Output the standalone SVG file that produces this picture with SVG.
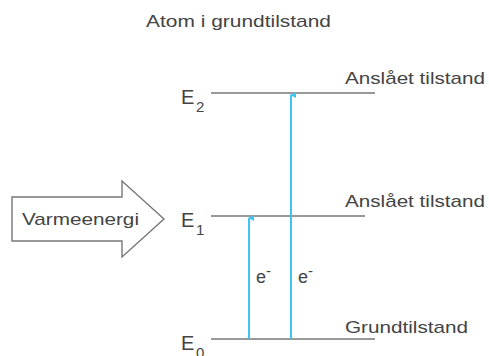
<svg xmlns="http://www.w3.org/2000/svg" width="489" height="356" viewBox="0 0 489 356">
<defs>
<marker id="ah" markerWidth="6" markerHeight="6" refX="3" refY="1" orient="auto-start-reverse" markerUnits="userSpaceOnUse" viewBox="0 0 6 6">
<path d="M0,6 L3,0 L6,6 Z" fill="#3fc3ef"/>
</marker>
</defs>
<style>
text{font-family:"Liberation Sans",Arial,sans-serif;fill:#444;}
.lbl{font-size:17px;}
.el{font-size:18px;}
.e{font-size:20px;}
.sub{font-size:15px;}
.lvl{stroke:#777;stroke-width:1.6;}
.ex{stroke:#3fc3ef;stroke-width:2;fill:none;}
</style>
<rect width="489" height="356" fill="#fff"/>
<text class="lbl" x="146" y="27" textLength="185" lengthAdjust="spacingAndGlyphs">Atom i grundtilstand</text>

<g id="heat">
<polygon points="12,197 122,197 122,181 164,219 122,257 122,241 12,241" fill="#fff" stroke="#777" stroke-width="1.4"/>
<text class="lbl" x="22" y="225" textLength="117" lengthAdjust="spacingAndGlyphs">Varmeenergi</text>
</g>

<g id="E2">
<line class="lvl" x1="211" y1="93" x2="375" y2="93"/>
<text class="e" x="181" y="104">E</text><text class="sub" x="196" y="112">2</text>
<text class="lbl" x="345" y="84" textLength="140" lengthAdjust="spacingAndGlyphs">Anslået tilstand</text>
</g>
<g id="E1">
<line class="lvl" x1="211" y1="216" x2="365" y2="216"/>
<text class="e" x="181" y="227">E</text><text class="sub" x="196" y="235">1</text>
<text class="lbl" x="345" y="207" textLength="140" lengthAdjust="spacingAndGlyphs">Anslået tilstand</text>
</g>
<g id="E0">
<line class="lvl" x1="211" y1="339" x2="375" y2="339"/>
<text class="e" x="181" y="350">E</text><text class="sub" x="196" y="358">0</text>
<text class="lbl" x="345" y="333" textLength="123" lengthAdjust="spacingAndGlyphs">Grundtilstand</text>
</g>

<g id="connectors">
<line class="ex" x1="249" y1="339" x2="249" y2="218" marker-end="url(#ah)"/>
<line class="ex" x1="291" y1="339" x2="291" y2="95" marker-end="url(#ah)"/>
<text class="el" x="256" y="283">e</text><text class="sub" x="266" y="276">-</text>
<text class="el" x="298" y="283">e</text><text class="sub" x="308" y="276">-</text>
</g>
</svg>
